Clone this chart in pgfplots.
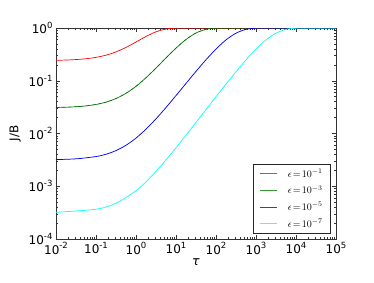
\documentclass[border=0pt]{standalone}
\usepackage{fontspec}
\newfontfamily\dejavu{DejaVu Sans}
\usepackage{pgfplots}
\pgfplotsset{compat=1.18}
\newcommand{\logexp}{\pgfmathparse{int(round(\tick))}\pgfmathresult}
\newcommand{\tlab}{{\dejavu\fontsize{12}{12}\selectfont 10\raisebox{0.8ex}{\fontsize{8.5}{8.5}\selectfont\logexp}}}
\definecolor{mgreen}{rgb}{0,0.5,0}
\definecolor{mcyan}{rgb}{0,1,1}
\definecolor{mred}{rgb}{1,0,0}
\definecolor{mblue}{rgb}{0,0,1}
\begin{document}
\begin{tikzpicture}
\begin{axis}[at={(0,0)}, anchor=south west, scale only axis,
  width=280pt, height=211pt,
  xmode=log, ymode=log, log basis x=10, log basis y=10,
  xmin=1e-2, xmax=1e5, ymin=1e-4, ymax=1,
  axis line style={black!80, line width=0.8pt},
  tick style={black!80, line width=0.5pt},
  major tick length=4pt, minor tick length=2pt,
  xticklabel={\tlab}, yticklabel={\tlab},
  xlabel={\dejavu\itshape\fontsize{12.5}{12.5}\selectfont τ}, ylabel={\dejavu\fontsize{12}{12}\selectfont J/B},
  every axis x label/.style={at={(axis description cs:0.5,-0.109)}, anchor=center},
  every axis y label/.style={at={(axis description cs:-0.146,0.5)}, rotate=90, anchor=center},
  legend style={at={(axis description cs:0.982,0.024)}, anchor=south east,
    draw=black!85, fill=white, line width=0.8pt, font=\fontsize{10.2}{12}\selectfont,
    row sep=3pt, inner xsep=6pt, inner ysep=3pt, nodes={inner sep=2pt}},
  legend image post style={line width=1pt, opacity=0.8},
  legend cell align=left,
]
\addplot[color=mred, draw=mred, line width=0.7pt, smooth] coordinates {
(0.01,0.2441)(0.0178,0.2471)(0.0316,0.2523)(0.0562,0.2616)(0.1,0.2777)(0.178,0.3056)(0.316,0.3526)(0.562,0.4284)(1,0.5419)(1.778,0.6910)(3.162,0.8466)(5.623,0.9558)(10,0.9952)(17.78,0.99991)(31.62,1)(100,1)(1000,1)(10000,1)(100000,1)};
\addlegendentry{\hspace{8pt}$\epsilon\!=\!10^{-1}$}
\addplot[color=mgreen, draw=mgreen, line width=0.7pt, smooth] coordinates {
(0.01,0.03114)(0.0178,0.03152)(0.0316,0.03220)(0.0562,0.03340)(0.1,0.03554)(0.178,0.03934)(0.316,0.04603)(0.562,0.05784)(1,0.07848)(1.778,0.11408)(3.162,0.17398)(5.623,0.27068)(10,0.41552)(17.78,0.60576)(31.62,0.80429)(56.23,0.94366)(100,0.99384)(177.8,0.99988)(316.2,1)(1000,1)(10000,1)(100000,1)};
\addlegendentry{\hspace{8pt}$\epsilon\!=\!10^{-3}$}
\addplot[color=mblue, draw=mblue, line width=0.7pt, smooth] coordinates {
(0.01,0.003203)(0.0316,0.003311)(0.1,0.003656)(0.178,0.004049)(0.316,0.004747)(0.562,0.005983)(1,0.008186)(1.778,0.012084)(3.162,0.018972)(5.623,0.031114)(10,0.052335)(17.78,0.088951)(31.62,0.150546)(56.23,0.249991)(100,0.398941)(177.8,0.594582)(316.2,0.798736)(562.3,0.942063)(1000,0.99367)(1778,0.99988)(3162,1)(10000,1)(100000,1)};
\addlegendentry{\hspace{8pt}$\epsilon\!=\!10^{-5}$}
\addplot[color=mcyan, draw=mcyan, line width=0.7pt, smooth] coordinates {
(0.01,0.000321)(0.1,0.000367)(0.316,0.000476)(1,0.000822)(1.778,0.001216)(3.162,0.001915)(5.623,0.003155)(10,0.005364)(17.78,0.009273)(31.62,0.016181)(56.23,0.028357)(100,0.04964)(177.8,0.086359)(316.2,0.148129)(562.3,0.247858)(1000,0.397231)(1778,0.593429)(3162,0.798164)(5623,0.941898)(10000,0.993652)(17780,0.99988)(31620,1)(100000,1)};
\addlegendentry{\hspace{8pt}$\epsilon\!=\!10^{-7}$}
\addplot[draw=mgreen!50!black, line width=0.5pt, dashed, opacity=0.6, smooth, forget plot] coordinates {
(0.01,0.03114)(0.0178,0.03152)(0.0316,0.03220)(0.0562,0.03340)(0.1,0.03554)(0.178,0.03934)(0.316,0.04603)(0.562,0.05784)(1,0.07848)(1.778,0.11408)(3.162,0.17398)(5.623,0.27068)(10,0.41552)(17.78,0.60576)(31.62,0.80429)(56.23,0.94366)(100,0.99384)(177.8,0.99988)(316.2,1)};
\addplot[draw=mblue!60!black, line width=0.4pt, dashed, opacity=0.4, smooth, forget plot] coordinates {
(0.01,0.003203)(0.0316,0.003311)(0.1,0.003656)(0.178,0.004049)(0.316,0.004747)(0.562,0.005983)(1,0.008186)(1.778,0.012084)(3.162,0.018972)(5.623,0.031114)(10,0.052335)(17.78,0.088951)(31.62,0.150546)(56.23,0.249991)(100,0.398941)(177.8,0.594582)(316.2,0.798736)(562.3,0.942063)(1000,0.99367)(1778,0.99988)(3162,1)};
\end{axis}
\path[use as bounding box] (-56pt,-43pt) rectangle (318pt,239pt);
\end{tikzpicture}
\end{document}
